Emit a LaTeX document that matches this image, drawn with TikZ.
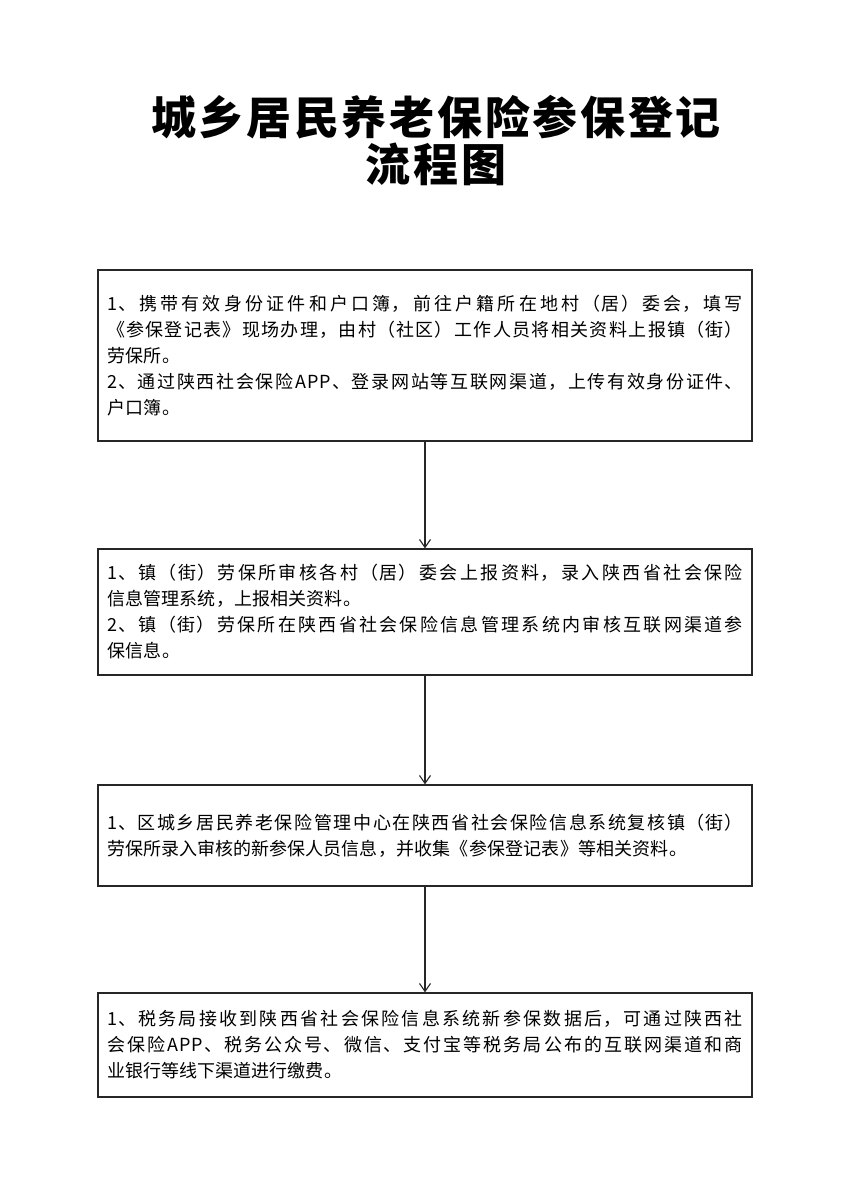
\documentclass[tikz,border=0pt]{standalone}
\usepackage{fontspec}
\usetikzlibrary{arrows.meta}
\newfontfamily\cjk[LetterSpace=6]{Noto Sans CJK SC}
\XeTeXlinebreaklocale "zh"
\XeTeXlinebreakskip=0pt plus 3pt
\tikzset{
  stepbox/.style={draw=black!85, line width=1.2pt, text width=636pt, inner xsep=9pt, inner ysep=0pt,
    align=justify, font=\cjk\fontsize{18pt}{26pt}\selectfont},
  arr/.style={draw=black!85, line width=1.1pt, -{Straight Barb[length=8pt,width=11pt,line width=1.1pt]}},
  titletext/.style={font=\cjk\bfseries\fontsize{45pt}{47pt}\selectfont, align=center, inner sep=0pt}
}
\begin{document}
\begin{tikzpicture}[x=1pt,y=-1pt]
\useasboundingbox[fill=white] (0,0) rectangle (847,1200);
\node[titletext] (title) at (436,141) {城乡居民养老保险参保登记\\流程图};
\node[stepbox, minimum height=171pt] (b1) at (425,355.5) {1、携带有效身份证件和户口簿，前往户籍所在地村（居）委会，填写\linebreak《参保登记表》现场办理，由村（社区）工作人员将相关资料上报镇（街）\linebreak 劳保所。\par 2、通过陕西社会保险APP、登录网站等互联网渠道，上传有效身份证件、\linebreak 户口簿。};
\node[stepbox, minimum height=126pt] (b2) at (425,612) {1、镇（街）劳保所审核各村（居）委会上报资料，录入陕西省社会保险\linebreak 信息管理系统，上报相关资料。\par 2、镇（街）劳保所在陕西省社会保险信息管理系统内审核互联网渠道参\linebreak 保信息。};
\node[stepbox, minimum height=101pt] (b3) at (425,835.5) {1、区城乡居民养老保险管理中心在陕西省社会保险信息系统复核镇（街）\linebreak 劳保所录入审核的新参保人员信息，并收集《参保登记表》等相关资料。};
\node[stepbox, minimum height=104pt] (b4) at (425,1045) {1、税务局接收到陕西省社会保险信息系统新参保数据后，可通过陕西社\linebreak 会保险APP、税务公众号、微信、支付宝等税务局公布的互联网渠道和商\linebreak 业银行等线下渠道进行缴费。};
\draw[arr] (b1) -- (b2);
\draw[arr] (b2) -- (b3);
\draw[arr] (b3) -- (b4);
\end{tikzpicture}
\end{document}
